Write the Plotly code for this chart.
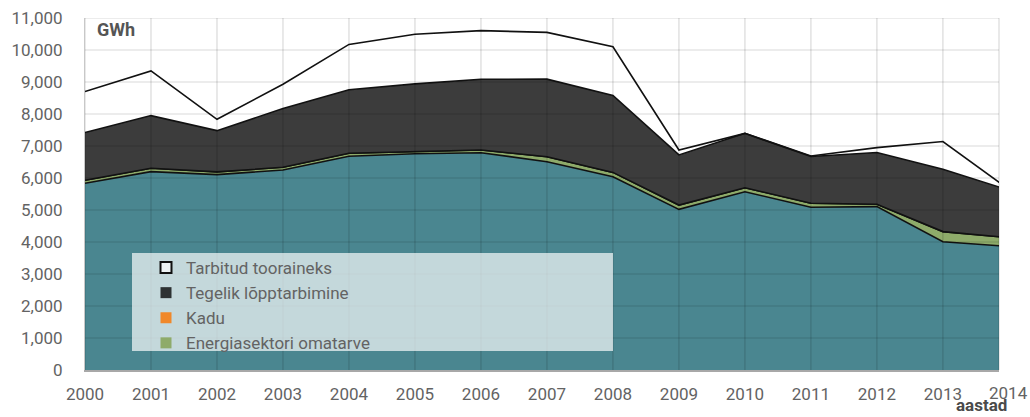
import plotly.graph_objects as go

# Energy use by year, GWh (stacked from the bottom up)
years = list(range(2000, 2015))
alus = [5835, 6200, 6105, 6250, 6680, 6760, 6790, 6510, 6040, 5020, 5570, 5085, 5105, 4010, 3860]
omatarve = [95, 105, 85, 85, 95, 75, 85, 155, 135, 135, 125, 125, 75, 315, 275]
kadu = [0, 0, 0, 0, 0, 0, 0, 0, 0, 0, 0, 0, 0, 0, 0]
lopptarbimine = [1490, 1645, 1290, 1835, 1985, 2105, 2210, 2425, 2405, 1565, 1700, 1460, 1615, 1950, 1485]
tooraineks = [1280, 1395, 355, 760, 1415, 1550, 1520, 1460, 1520, 155, 0, 20, 155, 865, 20]

x_ticks = list(range(2000, 2014))
y_ticks = list(range(0, 11001, 1000))
X_MAX = 2013.85

FONT = "Roboto"
TXT = "#636363"

layers = [
    ("Alus", alus, "#4a8690"),
    ("Energiasektori omatarve", omatarve, "#8eab6a"),
    ("Kadu", kadu, "#f0882a"),
    ("Tegelik lõpptarbimine", lopptarbimine, "#3c3c3c"),
    ("Tarbitud tooraineks", tooraineks, "#ffffff"),
]

fig = go.Figure()
for name, vals, col in layers:
    fig.add_trace(go.Scatter(
        x=years, y=vals, name=name, stackgroup="s", mode="lines",
        line=dict(color="#111111", width=1.6), fillcolor=col,
        showlegend=False, hoverinfo="skip",
    ))

# square legend keys, listed top of stack first
legend_keys = [
    ("Tarbitud tooraineks", "#eef3f4", "#111111", 2),
    ("Tegelik lõpptarbimine", "#2e3233", "#2e3233", 0),
    ("Kadu", "#f0882a", "#f0882a", 0),
    ("Energiasektori omatarve", "#8eab6a", "#8eab6a", 0),
]
for i, (name, fcol, lcol, lw) in enumerate(legend_keys):
    fig.add_trace(go.Scatter(
        x=[None], y=[None], mode="markers", name=name, legendgroup=f"g{i}",
        marker=dict(symbol="square", size=11, color=fcol, line=dict(color=lcol, width=lw)),
    ))

grid = "rgba(0,0,0,0.15)"
shapes = []
for yv in y_ticks[1:]:
    shapes.append(dict(type="line", xref="paper", yref="y", x0=0, x1=1, y0=yv, y1=yv,
                       line=dict(color=grid, width=1.2), layer="above"))
for xv in x_ticks:
    shapes.append(dict(type="line", xref="x", yref="paper", x0=xv, x1=xv, y0=0, y1=1,
                       line=dict(color=grid, width=1.2), layer="above"))
shapes.append(dict(type="line", xref="paper", yref="paper", x0=1, x1=1, y0=0, y1=1,
                   line=dict(color=grid, width=1.2), layer="above"))
# translucent legend panel
shapes.append(dict(type="rect", xref="paper", yref="paper",
                   x0=(132 - 85) / 914, x1=(613 - 85) / 914,
                   y0=(370 - 351) / 352, y1=(370 - 253) / 352,
                   fillcolor="rgba(255,255,255,0.68)", line=dict(width=0), layer="above"))

fig.update_layout(
    width=1030, height=417,
    margin=dict(l=85, r=31, t=18, b=47, autoexpand=False),
    paper_bgcolor="white", plot_bgcolor="white",
    font=dict(family=FONT, size=17, color=TXT),
    shapes=shapes,
    showlegend=True,
    legend=dict(
        x=(146 - 85) / 914, y=(370 - 250) / 352, xanchor="left", yanchor="top",
        bgcolor="rgba(0,0,0,0)", borderwidth=0, tracegroupgap=0,
        font=dict(family=FONT, size=17, color=TXT), traceorder="normal",
    ),
    xaxis=dict(
        range=[2000, X_MAX], tickvals=x_ticks, ticktext=[str(v) for v in x_ticks],
        showgrid=False, zeroline=False, showline=True, linecolor="#a8a8a8", linewidth=2,
        ticks="outside", ticklen=8, tickcolor="rgba(0,0,0,0)", automargin=False,
        tickfont=dict(family=FONT, size=17, color=TXT),
    ),
    yaxis=dict(
        range=[0, 11000], tickvals=y_ticks, tickformat=",d",
        showgrid=False, zeroline=False, showline=True, linecolor="#c8c8c8", linewidth=1,
        ticks="outside", ticklen=18, tickcolor="rgba(0,0,0,0)", automargin=False,
        tickfont=dict(family=FONT, size=17, color=TXT),
    ),
    annotations=[
        dict(text="2014", xref="paper", yref="paper", x=(2014 - 2000) / (X_MAX - 2000), y=0,
             yshift=-11, xanchor="center", yanchor="top", showarrow=False,
             font=dict(family=FONT, size=17, color=TXT)),
        dict(text="<b>GWh</b>", xref="paper", yref="paper", x=(95 - 85) / 914, y=(370 - 30) / 352,
             xanchor="left", yanchor="middle", showarrow=False,
             font=dict(family=FONT, size=18, color="#555555")),
        dict(text="<b>aastad</b>", xref="paper", yref="paper", x=(981 - 85) / 914, y=(370 - 417) / 352,
             yshift=0, xanchor="center", yanchor="bottom", showarrow=False,
             font=dict(family=FONT, size=17, color="#4a4a4a")),
    ],
)

fig.write_html("out.html")
